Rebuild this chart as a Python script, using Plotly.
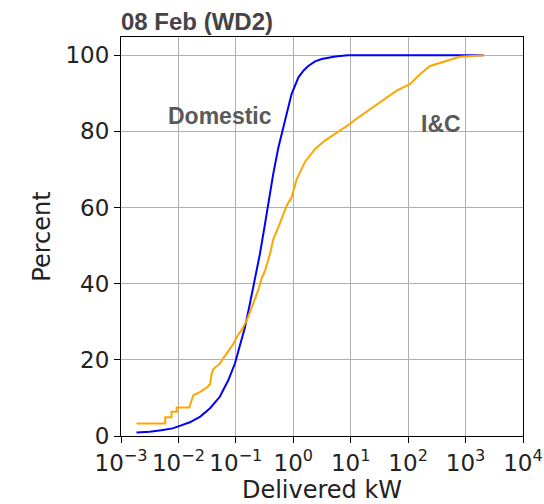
import math
import plotly.graph_objects as go

# Domestic CDF (Delivered kW, Percent)
dom_kw = [0.00186, 0.00316, 0.00501, 0.00794, 0.0112, 0.0158, 0.0240, 0.0355, 0.0525,
          0.0741, 0.0966, 0.1175, 0.1445, 0.1758, 0.2138, 0.263, 0.316, 0.367, 0.447,
          0.550, 0.670, 0.818, 0.933, 1.230, 1.514, 1.820, 2.399, 3.126, 5.37, 8.91, 2042]
dom_pct = [0.9, 1.1, 1.5, 2.0, 2.8, 3.6, 5.1, 7.3, 10.3,
           14.7, 19.1, 23.4, 28.6, 34.8, 40.9, 47.9, 55.0, 61.0, 68.8,
           75.8, 81.2, 86.5, 89.8, 94.2, 96.0, 97.2, 98.4, 99.0, 99.7, 100, 100]

# I&C CDF (Delivered kW, Percent)
ic_kw = [0.00186, 0.00589, 0.00589, 0.00759, 0.00759, 0.00933, 0.00933, 0.0155, 0.0170,
         0.0182, 0.0240, 0.0316, 0.0355, 0.0380, 0.0407, 0.0525, 0.0603, 0.0794, 0.0912,
         0.1035, 0.1259, 0.1549, 0.1905, 0.2455, 0.2818, 0.3236, 0.3936, 0.4467, 0.5888,
         0.7674, 0.9333, 1.148, 1.585, 2.399, 3.548, 6.026, 9.772, 11.75, 16.6, 37.15,
         63.1, 107.2, 162.2, 239.9, 467.7, 794.3, 2042]
ic_pct = [3.3, 3.3, 4.9, 4.9, 6.4, 6.4, 7.5, 7.5, 9.4,
          10.7, 11.6, 12.8, 13.6, 16.4, 17.6, 19.0, 20.4, 23.0, 24.3,
          26.0, 27.8, 30.4, 33.9, 38.3, 41.5, 43.5, 47.9, 51.6, 56.0,
          60.5, 62.7, 67.5, 71.9, 75.4, 77.6, 79.8, 82.0, 83.0, 84.6, 88.1,
          90.7, 92.4, 95.1, 97.2, 98.6, 99.6, 100]

x_tickvals = [1e-3, 1e-2, 1e-1, 1e0, 1e1, 1e2, 1e3, 1e4]
x_ticktext = ["10<sup>\u22123</sup>", "10<sup>\u22122</sup>", "10<sup>\u22121</sup>",
              "10<sup>0</sup>", "10<sup>1</sup>", "10<sup>2</sup>", "10<sup>3</sup>",
              "10<sup>4</sup>"]
y_tickvals = [0, 20, 40, 60, 80, 100]

title_text = "08 Feb (WD2)"
labels = {"Domestic": (0.053, 84.1), "I&C": (366.0, 82.0)}

fig = go.Figure()
fig.add_trace(go.Scatter(x=dom_kw, y=dom_pct, mode="lines", name="Domestic",
                         line=dict(color="#0000ff", width=2)))
fig.add_trace(go.Scatter(x=ic_kw, y=ic_pct, mode="lines", name="I&C",
                         line=dict(color="#ffa500", width=2)))

for txt, (xv, yv) in labels.items():
    fig.add_annotation(x=math.log10(xv), y=yv, xref="x", yref="y", text="<b>%s</b>" % txt,
                       showarrow=False, xanchor="center", yanchor="middle",
                       font=dict(family="Liberation Sans, Arial", size=23, color="#5a5a5a"))

fig.add_annotation(x=0, y=1.04, xref="paper", yref="paper", text="<b>%s</b>" % title_text,
                   showarrow=False, xanchor="left", yanchor="middle", xshift=-2,
                   font=dict(family="Liberation Sans, Arial", size=24, color="#444444"))

axis_common = dict(showline=True, mirror=True, linecolor="black", linewidth=1.2,
                   ticks="outside", ticklen=6, tickcolor="black", tickwidth=1.2,
                   showgrid=True, gridcolor="#b0b0b0", gridwidth=1, zeroline=False,
                   automargin=False,
                   tickfont=dict(family="DejaVu Sans", size=23, color="#222222"))

fig.update_layout(
    width=544, height=504,
    margin=dict(l=121, r=21, t=37, b=68),
    plot_bgcolor="white", paper_bgcolor="white",
    showlegend=False,
    xaxis=dict(type="log", range=[-3, 4], tickmode="array", tickvals=x_tickvals,
               ticktext=x_ticktext,
               title=dict(text="Delivered kW", standoff=7,
                          font=dict(family="DejaVu Sans", size=24, color="#222222")),
               **axis_common),
    yaxis=dict(range=[0, 104.8], tickmode="array", tickvals=y_tickvals,
               title=dict(text="Percent", standoff=7,
                          font=dict(family="DejaVu Sans", size=24, color="#222222")),
               **axis_common),
)

fig.write_html("out.html")
